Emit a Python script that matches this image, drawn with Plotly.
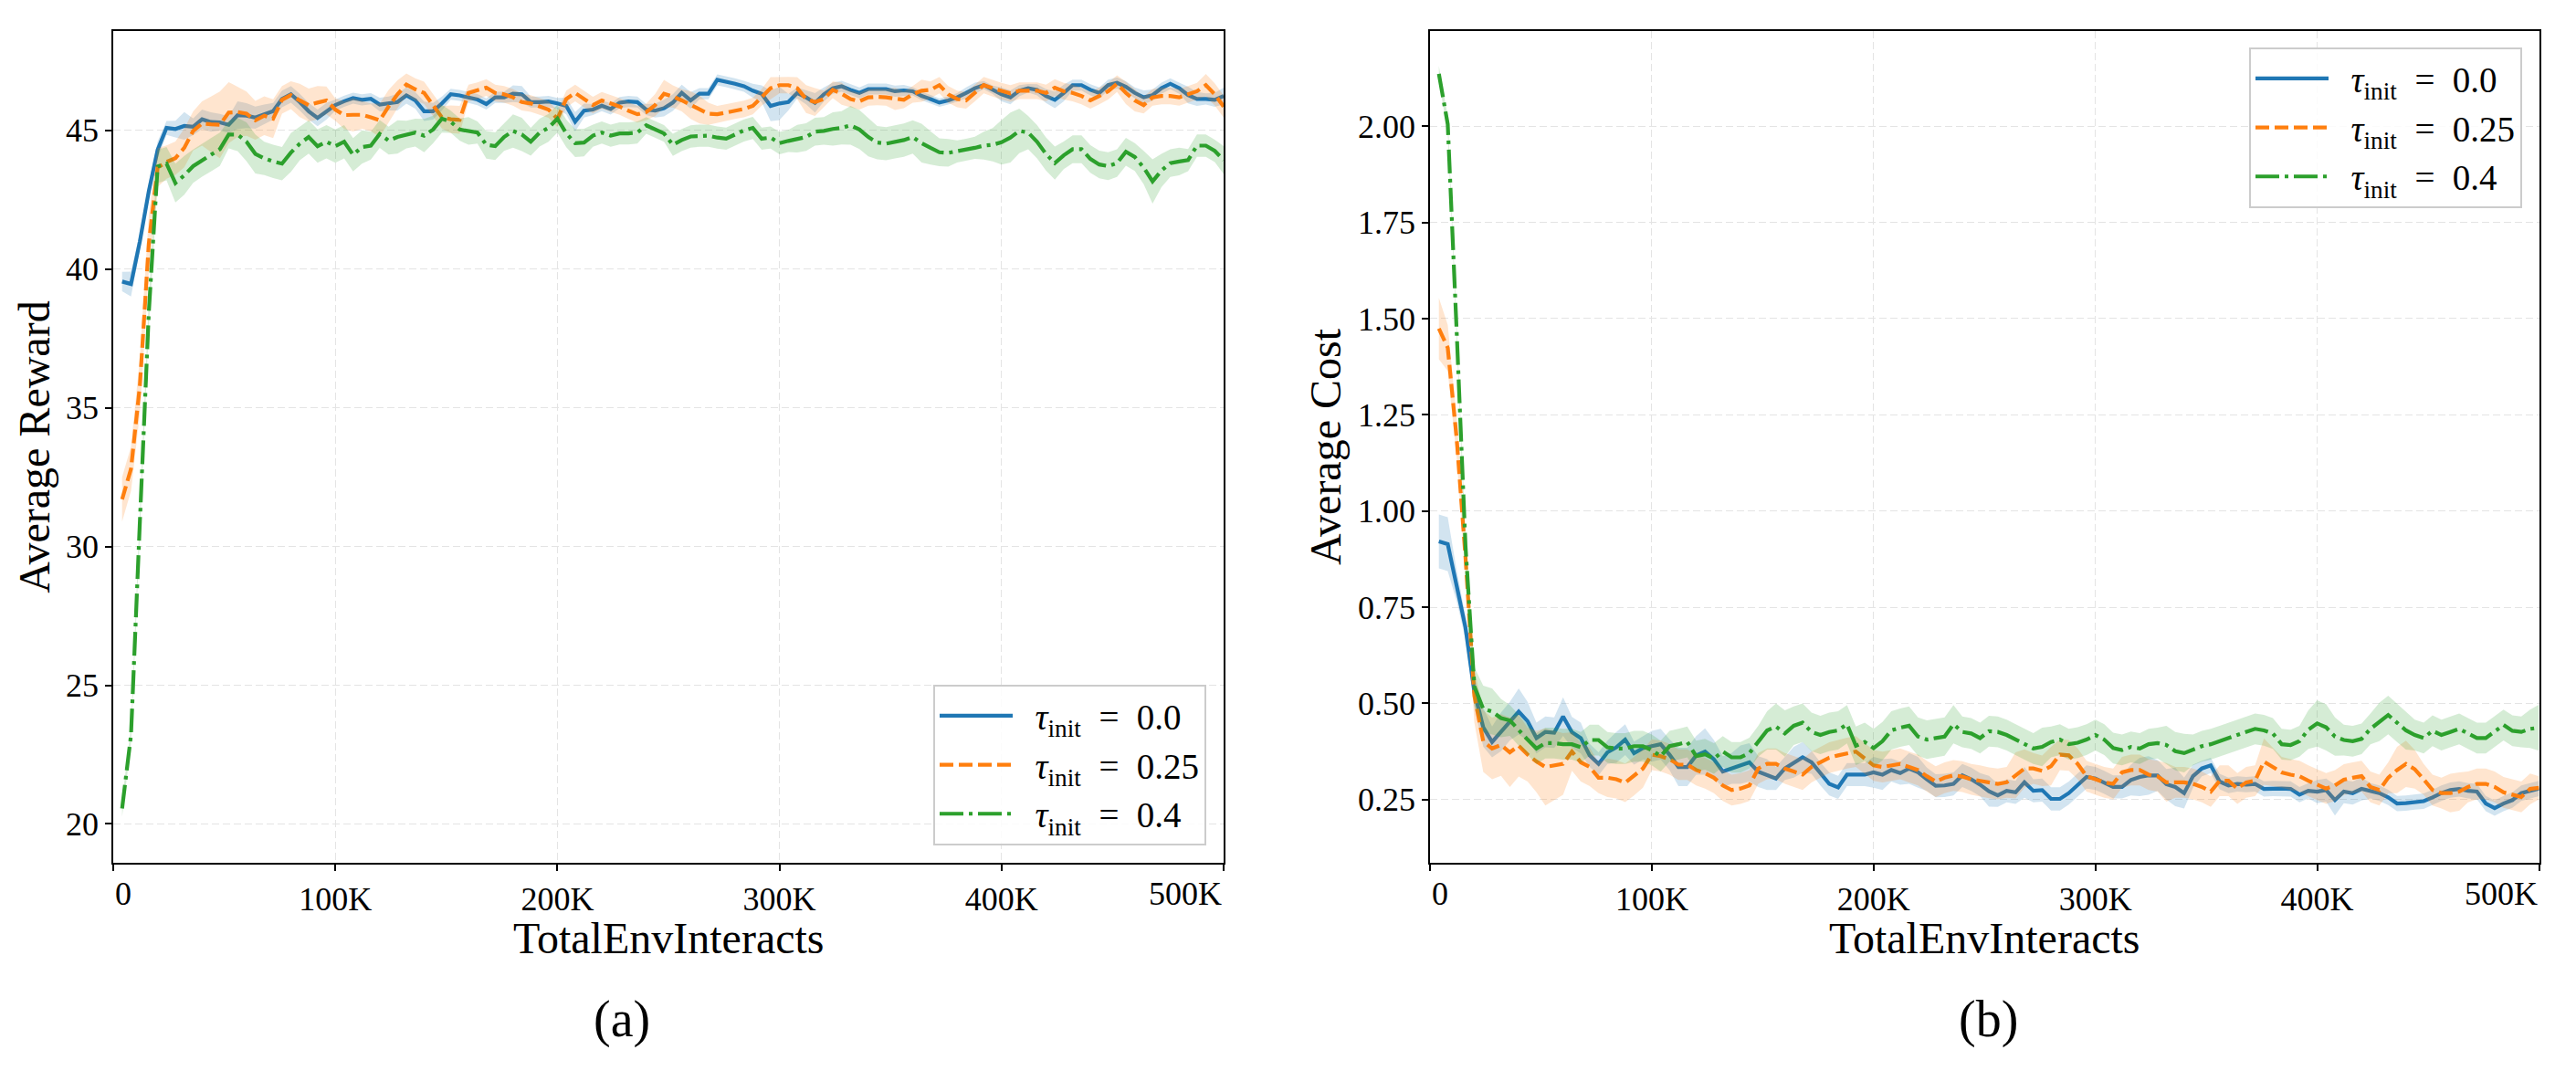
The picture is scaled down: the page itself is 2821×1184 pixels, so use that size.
import plotly.graph_objects as go

# ---------------- data ----------------
steps = list(range(4000, 500001, 4000))  # evaluation points (every 4K interactions)

series_names = ["\u2002<i>τ</i><sub>init</sub>\u2002=\u20020.0",
                "\u2002<i>τ</i><sub>init</sub>\u2002=\u20020.25",
                "\u2002<i>τ</i><sub>init</sub>\u2002=\u20020.4"]

x_tickvals = [0, 100000, 200000, 300000, 400000, 500000]
x_ticktext = ["0", "100K", "200K", "300K", "400K", "500K"]
reward_tickvals = [20, 25, 30, 35, 40, 45]
cost_tickvals = [0.25, 0.50, 0.75, 1.00, 1.25, 1.50, 1.75, 2.00]

reward_tau00 = [
    39.55, 39.46, 41.0, 42.8, 44.3, 45.09, 45.05, 45.16, 45.13, 45.4,
    45.3, 45.29, 45.2, 45.55, 45.53, 45.46, 45.58, 45.69, 46.13, 46.3,
    46.02, 45.69, 45.45, 45.69, 45.91, 46.05, 46.16, 46.1, 46.14, 45.93,
    45.97, 46.02, 46.26, 46.08, 45.69, 45.69, 45.97, 46.3, 46.26, 46.19,
    46.11, 45.95, 46.19, 46.19, 46.32, 46.3, 46.02, 46.02, 46.04, 45.97,
    45.88, 45.31, 45.71, 45.75, 45.89, 45.77, 46.0, 46.04, 46.02, 45.75,
    45.71, 45.8, 46.0, 46.35, 46.08, 46.32, 46.32, 46.82, 46.76, 46.68,
    46.59, 46.43, 46.32, 45.88, 45.97, 46.02, 46.35, 46.19, 45.99, 46.3,
    46.52, 46.59, 46.46, 46.35, 46.49, 46.49, 46.49, 46.41, 46.44, 46.41,
    46.24, 46.13, 46.0, 46.08, 46.19, 46.35, 46.52, 46.63, 46.46, 46.3,
    46.19, 46.43, 46.52, 46.46, 46.24, 46.1, 46.35, 46.63, 46.63, 46.46,
    46.35, 46.63, 46.71, 46.57, 46.35, 46.19, 46.27, 46.52, 46.68, 46.52,
    46.27, 46.13, 46.13, 46.1, 46.24]
reward_tau025 = [
    31.7, 32.8, 35.8, 40.9, 43.66, 43.86, 44.0, 44.37, 44.98, 45.25,
    45.22, 45.2, 45.64, 45.66, 45.6, 45.36, 45.53, 45.42, 46.1, 46.27,
    46.08, 45.91, 46.0, 46.08, 45.75, 45.55, 45.56, 45.56, 45.47, 45.36,
    45.86, 46.3, 46.65, 46.48, 46.35, 45.91, 45.47, 45.4, 45.38, 46.35,
    46.43, 46.54, 46.35, 46.3, 46.19, 46.02, 45.97, 45.86, 45.75, 45.42,
    46.13, 46.35, 46.13, 45.91, 46.08, 45.97, 45.86, 45.71, 45.58, 45.66,
    45.91, 46.32, 46.22, 46.08, 45.91, 45.75, 45.6, 45.58, 45.64, 45.71,
    45.77, 45.88, 46.19, 46.52, 46.63, 46.63, 46.52, 46.13, 46.02, 46.13,
    46.46, 46.32, 46.13, 46.05, 46.19, 46.21, 46.19, 46.13, 46.1, 46.3,
    46.43, 46.46, 46.63, 46.3, 46.13, 46.08, 46.35, 46.63, 46.52, 46.41,
    46.33, 46.43, 46.43, 46.43, 46.35, 46.54, 46.41, 46.35, 46.24, 46.08,
    46.24, 46.41, 46.68, 46.35, 46.08, 45.91, 46.19, 46.24, 46.24, 46.19,
    46.3, 46.41, 46.63, 46.3, 45.86]
reward_tau04 = [
    20.56, 23.2, 30.9, 38.4, 43.7, 43.8, 43.1, 43.38, 43.71, 43.93,
    44.12, 44.32, 44.85, 44.85, 44.59, 44.15, 43.99, 43.88, 43.8, 44.2,
    44.52, 44.76, 44.43, 44.59, 44.43, 44.59, 44.12, 44.4, 44.45, 44.87,
    44.63, 44.76, 44.85, 44.92, 44.81, 45.03, 45.42, 45.31, 45.03, 44.98,
    44.92, 44.48, 44.43, 44.76, 44.98, 44.85, 44.59, 44.92, 45.09, 45.42,
    44.89, 44.54, 44.56, 44.81, 44.92, 44.81, 44.89, 44.89, 44.92, 45.18,
    45.03, 44.89, 44.48, 44.65, 44.78, 44.81, 44.81, 44.74, 44.7, 44.85,
    45.0, 45.09, 44.7, 44.74, 44.54, 44.62, 44.7, 44.76, 44.95, 44.98,
    45.05, 45.09, 45.18, 45.03, 44.76, 44.56, 44.52, 44.59, 44.65, 44.76,
    44.54, 44.37, 44.21, 44.19, 44.24, 44.3, 44.37, 44.45, 44.48, 44.57,
    44.74, 44.98, 44.92, 44.59, 44.15, 43.82, 44.1, 44.32, 44.32, 43.97,
    43.77, 43.71, 43.82, 44.23, 44.04, 43.66, 43.16, 43.55, 43.82, 43.88,
    43.93, 44.45, 44.45, 44.26, 43.93]

reward_std_tau00 = [
    0.35, 0.45, 0.3, 0.3, 0.3, 0.25, 0.3, 0.5, 0.3, 0.35, 0.35, 0.3, 0.3, 0.5, 0.45, 0.4, 0.35, 0.3, 0.3, 0.3, 0.3, 0.3, 0.3, 0.3, 0.2,
    0.2, 0.2, 0.2, 0.2, 0.25, 0.25, 0.3, 0.3, 0.3, 0.35, 0.3, 0.25, 0.2, 0.2, 0.2, 0.2, 0.2, 0.2, 0.2, 0.3, 0.3, 0.2, 0.2, 0.2, 0.2,
    0.3, 0.35, 0.25, 0.2, 0.2, 0.2, 0.2, 0.2, 0.2, 0.2, 0.25, 0.3, 0.3, 0.3, 0.3, 0.2, 0.2, 0.2, 0.2, 0.2, 0.2, 0.25, 0.3, 0.55, 0.6,
    0.3, 0.2, 0.25, 0.35, 0.25, 0.2, 0.2, 0.2, 0.2, 0.2, 0.2, 0.2, 0.2, 0.2, 0.15, 0.15, 0.15, 0.15, 0.15, 0.15, 0.2, 0.2, 0.15, 0.15, 0.25,
    0.25, 0.2, 0.15, 0.2, 0.25, 0.3, 0.3, 0.2, 0.2, 0.2, 0.2, 0.2, 0.2, 0.2, 0.2, 0.25, 0.2, 0.2, 0.2, 0.2, 0.3, 0.25, 0.2, 0.25, 0.3]
reward_std_tau025 = [
    0.8, 0.8, 1.0, 1.0, 0.7, 0.6, 0.6, 0.7, 0.7, 0.8, 1.0, 1.2, 1.1, 0.9, 0.8, 0.7, 0.7, 0.7, 0.5, 0.5, 0.6, 0.6, 0.6, 0.5, 0.4,
    0.5, 0.6, 0.5, 0.5, 0.6, 0.6, 0.5, 0.4, 0.4, 0.4, 0.4, 0.4, 0.5, 0.5, 0.3, 0.3, 0.3, 0.3, 0.3, 0.3, 0.3, 0.3, 0.3, 0.3, 0.3,
    0.3, 0.3, 0.3, 0.3, 0.3, 0.3, 0.3, 0.3, 0.3, 0.3, 0.4, 0.5, 0.4, 0.4, 0.5, 0.5, 0.4, 0.3, 0.3, 0.3, 0.3, 0.3, 0.3, 0.4, 0.3,
    0.3, 0.4, 0.5, 0.5, 0.3, 0.3, 0.4, 0.3, 0.3, 0.3, 0.3, 0.3, 0.4, 0.3, 0.3, 0.4, 0.3, 0.3, 0.3, 0.3, 0.3, 0.3, 0.3, 0.3, 0.3,
    0.3, 0.3, 0.3, 0.3, 0.3, 0.3, 0.3, 0.3, 0.3, 0.3, 0.3, 0.3, 0.3, 0.4, 0.4, 0.3, 0.3, 0.3, 0.3, 0.3, 0.3, 0.3, 0.4, 0.4, 0.4]
reward_std_tau04 = [
    0.3, 0.3, 0.4, 0.5, 0.6, 0.6, 0.7, 0.7, 0.6, 0.6, 0.6, 0.6, 0.5, 0.6, 0.7, 0.7, 0.6, 0.6, 0.6, 0.7, 0.6, 0.6, 0.6, 0.6, 0.6,
    0.6, 0.6, 0.6, 0.5, 0.5, 0.5, 0.6, 0.5, 0.5, 0.6, 0.5, 0.5, 0.4, 0.4, 0.5, 0.4, 0.5, 0.5, 0.5, 0.6, 0.6, 0.5, 0.5, 0.5, 0.5,
    0.5, 0.5, 0.5, 0.4, 0.4, 0.4, 0.4, 0.4, 0.4, 0.3, 0.3, 0.3, 0.4, 0.4, 0.4, 0.4, 0.4, 0.4, 0.4, 0.4, 0.4, 0.4, 0.4, 0.4, 0.4,
    0.4, 0.5, 0.5, 0.5, 0.5, 0.6, 0.6, 0.7, 0.7, 0.7, 0.6, 0.6, 0.6, 0.6, 0.6, 0.7, 0.6, 0.5, 0.5, 0.4, 0.4, 0.4, 0.5, 0.6, 0.8,
    0.9, 0.8, 0.6, 0.6, 0.6, 0.6, 0.5, 0.5, 0.5, 0.5, 0.5, 0.5, 0.5, 0.5, 0.5, 0.6, 0.8, 0.6, 0.5, 0.5, 0.4, 0.4, 0.4, 0.4, 0.5]

cost_tau00 = [
    0.921, 0.914, 0.806, 0.697, 0.53, 0.438, 0.4, 0.426, 0.454, 0.479,
    0.454, 0.41, 0.426, 0.424, 0.466, 0.425, 0.41, 0.365, 0.343, 0.373,
    0.386, 0.406, 0.371, 0.384, 0.389, 0.394, 0.367, 0.335, 0.335, 0.365,
    0.375, 0.355, 0.323, 0.331, 0.341, 0.347, 0.323, 0.315, 0.305, 0.331,
    0.347, 0.36, 0.347, 0.317, 0.291, 0.282, 0.315, 0.315, 0.315, 0.321,
    0.315, 0.327, 0.319, 0.331, 0.321, 0.303, 0.286, 0.287, 0.291, 0.313,
    0.303, 0.289, 0.272, 0.261, 0.273, 0.269, 0.295, 0.273, 0.275, 0.252,
    0.252, 0.267, 0.287, 0.309, 0.305, 0.295, 0.283, 0.283, 0.301, 0.309,
    0.313, 0.313, 0.29, 0.283, 0.267, 0.311, 0.331, 0.339, 0.297, 0.287,
    0.291, 0.289, 0.291, 0.278, 0.279, 0.279, 0.278, 0.263, 0.273, 0.271,
    0.275, 0.249, 0.271, 0.267, 0.278, 0.273, 0.267, 0.256, 0.24, 0.241,
    0.244, 0.246, 0.256, 0.267, 0.275, 0.278, 0.273, 0.271, 0.24, 0.228,
    0.24, 0.249, 0.267, 0.273, 0.279]
cost_tau025 = [
    1.474, 1.424, 1.19, 0.88, 0.52, 0.402, 0.383, 0.392, 0.373, 0.39,
    0.367, 0.349, 0.335, 0.339, 0.343, 0.375, 0.347, 0.335, 0.307, 0.307,
    0.303, 0.294, 0.311, 0.331, 0.367, 0.363, 0.355, 0.341, 0.341, 0.327,
    0.319, 0.307, 0.287, 0.275, 0.279, 0.287, 0.331, 0.343, 0.343, 0.331,
    0.323, 0.315, 0.335, 0.347, 0.359, 0.365, 0.371, 0.375, 0.357, 0.339,
    0.335, 0.339, 0.343, 0.335, 0.327, 0.311, 0.297, 0.307, 0.313, 0.31,
    0.303, 0.299, 0.294, 0.291, 0.295, 0.313, 0.331, 0.331, 0.325, 0.337,
    0.367, 0.365, 0.343, 0.311, 0.303, 0.295, 0.291, 0.321, 0.327, 0.327,
    0.315, 0.311, 0.295, 0.295, 0.295, 0.291, 0.283, 0.271, 0.299, 0.299,
    0.279, 0.295, 0.299, 0.349, 0.335, 0.321, 0.315, 0.311, 0.299, 0.289,
    0.279, 0.287, 0.302, 0.307, 0.311, 0.283, 0.275, 0.307, 0.327, 0.343,
    0.329, 0.303, 0.275, 0.267, 0.267, 0.271, 0.283, 0.291, 0.291, 0.283,
    0.269, 0.263, 0.257, 0.278, 0.281]
cost_tau04 = [
    2.136, 2.005, 1.47, 0.91, 0.544, 0.486, 0.479, 0.462, 0.456, 0.43,
    0.406, 0.383, 0.397, 0.397, 0.394, 0.394, 0.386, 0.405, 0.405, 0.386,
    0.383, 0.383, 0.389, 0.389, 0.379, 0.363, 0.389, 0.394, 0.4, 0.363,
    0.368, 0.357, 0.375, 0.36, 0.36, 0.371, 0.402, 0.43, 0.44, 0.422,
    0.442, 0.45, 0.426, 0.418, 0.426, 0.43, 0.446, 0.39, 0.4, 0.384,
    0.402, 0.43, 0.437, 0.442, 0.414, 0.406, 0.41, 0.414, 0.446, 0.426,
    0.422, 0.41, 0.428, 0.426, 0.418, 0.406, 0.394, 0.383, 0.387, 0.4,
    0.406, 0.394, 0.398, 0.406, 0.418, 0.406, 0.384, 0.379, 0.387, 0.383,
    0.394, 0.397, 0.392, 0.376, 0.371, 0.379, 0.389, 0.394, 0.402, 0.41,
    0.418, 0.426, 0.434, 0.43, 0.422, 0.394, 0.392, 0.402, 0.432, 0.448,
    0.438, 0.414, 0.405, 0.402, 0.408, 0.434, 0.452, 0.47, 0.45, 0.43,
    0.418, 0.41, 0.429, 0.418, 0.426, 0.434, 0.422, 0.41, 0.41, 0.426,
    0.444, 0.429, 0.426, 0.434, 0.437]

cost_std_tau00 = [
    0.07, 0.07, 0.04, 0.03, 0.04, 0.05, 0.04, 0.05, 0.05, 0.06, 0.05, 0.04, 0.04, 0.04, 0.05, 0.04, 0.04, 0.03, 0.03, 0.03, 0.04, 0.04, 0.03, 0.03, 0.04,
    0.04, 0.04, 0.05, 0.05, 0.05, 0.06, 0.05, 0.04, 0.04, 0.05, 0.05, 0.04, 0.04, 0.03, 0.03, 0.04, 0.04, 0.03, 0.03, 0.03, 0.03, 0.03, 0.03, 0.03, 0.04,
    0.04, 0.03, 0.03, 0.04, 0.04, 0.03, 0.03, 0.03, 0.03, 0.03, 0.03, 0.03, 0.04, 0.03, 0.03, 0.03, 0.04, 0.03, 0.03, 0.03, 0.03, 0.03, 0.03, 0.03, 0.03,
    0.03, 0.03, 0.03, 0.04, 0.05, 0.05, 0.04, 0.04, 0.05, 0.04, 0.03, 0.02, 0.02, 0.02, 0.02, 0.02, 0.02, 0.02, 0.02, 0.02, 0.02, 0.02, 0.02, 0.02, 0.03,
    0.03, 0.04, 0.03, 0.03, 0.03, 0.02, 0.02, 0.02, 0.02, 0.02, 0.02, 0.02, 0.02, 0.02, 0.02, 0.02, 0.02, 0.02, 0.02, 0.02, 0.02, 0.02, 0.02, 0.02, 0.02]
cost_std_tau025 = [
    0.08, 0.06, 0.05, 0.05, 0.07, 0.08, 0.08, 0.08, 0.09, 0.08, 0.07, 0.08, 0.1, 0.09, 0.08, 0.05, 0.05, 0.05, 0.04, 0.05, 0.05, 0.05, 0.05, 0.05, 0.04,
    0.04, 0.04, 0.04, 0.04, 0.04, 0.04, 0.04, 0.04, 0.04, 0.04, 0.04, 0.04, 0.04, 0.04, 0.04, 0.04, 0.04, 0.04, 0.04, 0.04, 0.04, 0.04, 0.04, 0.04, 0.04,
    0.04, 0.04, 0.04, 0.04, 0.04, 0.04, 0.04, 0.04, 0.04, 0.04, 0.04, 0.04, 0.04, 0.04, 0.04, 0.06, 0.05, 0.04, 0.04, 0.05, 0.04, 0.04, 0.04, 0.04, 0.04,
    0.04, 0.04, 0.04, 0.04, 0.04, 0.04, 0.04, 0.05, 0.04, 0.04, 0.04, 0.04, 0.04, 0.04, 0.04, 0.04, 0.04, 0.04, 0.06, 0.05, 0.04, 0.04, 0.04, 0.04, 0.04,
    0.04, 0.04, 0.04, 0.04, 0.04, 0.04, 0.04, 0.04, 0.06, 0.06, 0.05, 0.04, 0.04, 0.04, 0.05, 0.05, 0.04, 0.04, 0.04, 0.04, 0.04, 0.04, 0.04, 0.04, 0.03]
cost_std_tau04 = [
    0.02, 0.02, 0.02, 0.03, 0.05, 0.06, 0.06, 0.05, 0.04, 0.04, 0.04, 0.04, 0.04, 0.04, 0.04, 0.04, 0.04, 0.04, 0.04, 0.04, 0.04, 0.04, 0.04, 0.04, 0.04,
    0.04, 0.04, 0.04, 0.04, 0.04, 0.04, 0.04, 0.04, 0.04, 0.04, 0.04, 0.04, 0.05, 0.06, 0.06, 0.05, 0.05, 0.05, 0.05, 0.05, 0.05, 0.05, 0.05, 0.05, 0.05,
    0.05, 0.05, 0.05, 0.05, 0.05, 0.05, 0.05, 0.05, 0.05, 0.04, 0.04, 0.04, 0.04, 0.04, 0.04, 0.04, 0.04, 0.04, 0.05, 0.04, 0.04, 0.04, 0.04, 0.04, 0.04,
    0.04, 0.04, 0.04, 0.04, 0.04, 0.04, 0.04, 0.05, 0.05, 0.05, 0.04, 0.04, 0.04, 0.04, 0.04, 0.04, 0.04, 0.04, 0.04, 0.04, 0.04, 0.04, 0.04, 0.05, 0.06,
    0.06, 0.05, 0.04, 0.04, 0.04, 0.04, 0.05, 0.05, 0.05, 0.05, 0.04, 0.04, 0.04, 0.04, 0.04, 0.04, 0.04, 0.04, 0.04, 0.04, 0.04, 0.04, 0.04, 0.05, 0.06]

for arr in [reward_tau00, reward_tau025, reward_tau04, reward_std_tau00, reward_std_tau025,
            reward_std_tau04, cost_tau00, cost_tau025, cost_tau04, cost_std_tau00,
            cost_std_tau025, cost_std_tau04]:
    assert len(arr) == len(steps), len(arr)

# ---------------- style ----------------
FONT = "Liberation Serif, Times New Roman, serif"
colors = ["#1f77b4", "#ff7f0e", "#2ca02c"]
fills = ["rgba(31,119,180,0.2)", "rgba(255,127,14,0.2)", "rgba(44,160,44,0.2)"]
dashes = ["solid", "15px,6px", "26px,6px,4px,6px"]

W, H = 2821, 1184
L1, R1, L2, R2, T, B = 124, 1340, 1566, 2780.5, 34, 945

fig = go.Figure()


def add_series(xa, ya, mean, std, i, legend):
    upper = [m + s for m, s in zip(mean, std)]
    lower = [m - s for m, s in zip(mean, std)]
    fig.add_trace(go.Scatter(
        x=steps + steps[::-1], y=upper + lower[::-1], xaxis=xa, yaxis=ya,
        fill="toself", fillcolor=fills[i], line=dict(width=0), mode="lines",
        hoverinfo="skip", showlegend=False))
    fig.add_trace(go.Scatter(
        x=steps, y=mean, xaxis=xa, yaxis=ya, mode="lines", name=series_names[i],
        line=dict(color=colors[i], width=4.2, dash=dashes[i]), legend=legend))


rewards = [(reward_tau00, reward_std_tau00), (reward_tau025, reward_std_tau025), (reward_tau04, reward_std_tau04)]
costs = [(cost_tau00, cost_std_tau00), (cost_tau025, cost_std_tau025), (cost_tau04, cost_std_tau04)]
for i, (m, s) in enumerate(rewards):
    add_series("x", "y", m, s, i, "legend")
for i, (m, s) in enumerate(costs):
    add_series("x2", "y2", m, s, i, "legend2")

axis_common = dict(
    showline=True, linecolor="black", linewidth=1.6, mirror=True,
    ticks="outside", ticklen=7, tickwidth=1.6, tickcolor="black",
    showgrid=True, gridcolor="#e4e4e4", gridwidth=1.4, griddash="8px,4px",
    zeroline=False, tickfont=dict(family=FONT, size=36, color="black"),
)
xt_inner = ["", "100K", "200K", "300K", "400K", ""]

legend_common = dict(bgcolor="rgba(255,255,255,0.85)", bordercolor="#cccccc", borderwidth=2,
                     font=dict(family=FONT, size=39, color="black"), itemwidth=80,
                     tracegroupgap=0)

ydom = [1 - B / H, 1 - T / H]
fig.update_layout(
    width=W, height=H, margin=dict(l=0, r=0, t=0, b=0),
    paper_bgcolor="white", plot_bgcolor="white",
    font=dict(family=FONT, color="black"),
    xaxis=dict(axis_common, domain=[L1 / W, R1 / W], range=[0, 500000], anchor="y",
               tickvals=x_tickvals, ticktext=xt_inner),
    yaxis=dict(axis_common, domain=ydom, range=[18.6, 48.58], anchor="x",
               tickvals=reward_tickvals,
               title=dict(text="Average Reward", font=dict(family=FONT, size=48), standoff=2)),
    xaxis2=dict(axis_common, domain=[L2 / W, R2 / W], range=[0, 500000], anchor="y2",
                tickvals=x_tickvals, ticktext=xt_inner),
    yaxis2=dict(axis_common, domain=ydom, range=[0.086, 2.247], anchor="x2",
                tickvals=cost_tickvals, tickformat=".2f",
                title=dict(text="Average Cost", font=dict(family=FONT, size=48), standoff=3)),
    legend=dict(legend_common, x=1321 / W, y=1 - 926 / H, xanchor="right", yanchor="bottom"),
    legend2=dict(legend_common, x=2762 / W, y=1 - 52 / H, xanchor="right", yanchor="top"),
)

# end tick labels kept inside the axes, as in the reference
for xa in ["x", "x2"]:
    fig.add_annotation(x=0, xref=xa, y=ydom[0], yref="paper", text=x_ticktext[0],
                       xanchor="left", yanchor="top", yshift=-12, showarrow=False,
                       font=dict(family=FONT, size=36, color="black"))
    fig.add_annotation(x=500000, xref=xa, y=ydom[0], yref="paper", text=x_ticktext[-1],
                       xanchor="right", yanchor="top", yshift=-12, showarrow=False,
                       font=dict(family=FONT, size=36, color="black"))

# x-axis titles
for xc in [(L1 + R1) / 2, (L2 + R2) / 2]:
    fig.add_annotation(x=xc / W, y=1 - 1027 / H, xref="paper", yref="paper",
                       text="TotalEnvInteracts", xanchor="center", yanchor="middle",
                       showarrow=False, font=dict(family=FONT, size=48, color="black"))

# subplot labels
for txt, xc in [("(a)", 681), ("(b)", 2177)]:
    fig.add_annotation(x=xc / W, y=1 - 1116 / H, xref="paper", yref="paper", text=txt,
                       xanchor="center", yanchor="middle", showarrow=False,
                       font=dict(family=FONT, size=56, color="black"))

fig.write_html("out.html")
